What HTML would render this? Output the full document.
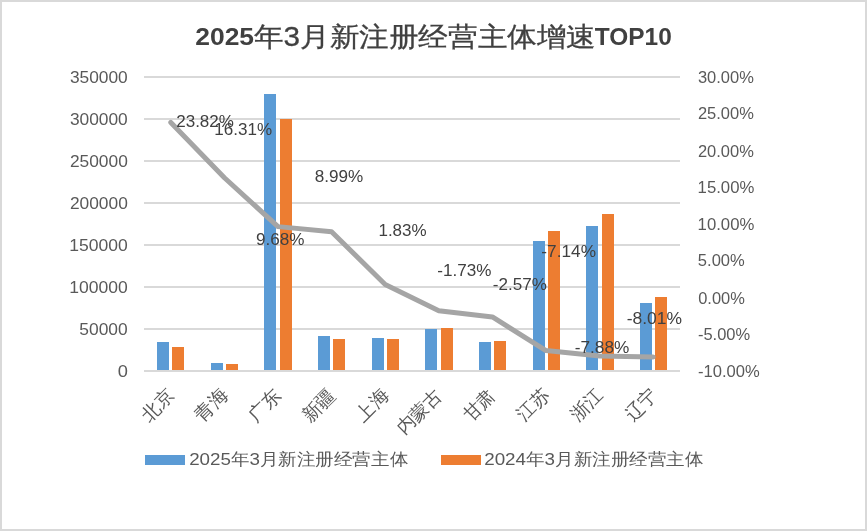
<!DOCTYPE html>
<html><head><meta charset="utf-8"><style>
html,body{margin:0;padding:0;background:#fff;width:867px;height:531px;overflow:hidden}
svg{display:block;will-change:transform}
</style></head><body>
<svg width="867" height="531" viewBox="0 0 867 531">
<rect x="1.0" y="1.0" width="865" height="529" fill="#fff" stroke="#d9d9d9" stroke-width="2"/>
<line x1="144" y1="77" x2="680" y2="77" stroke="#d9d9d9" stroke-width="2"/>
<line x1="144" y1="119" x2="680" y2="119" stroke="#d9d9d9" stroke-width="2"/>
<line x1="144" y1="161" x2="680" y2="161" stroke="#d9d9d9" stroke-width="2"/>
<line x1="144" y1="203" x2="680" y2="203" stroke="#d9d9d9" stroke-width="2"/>
<line x1="144" y1="245" x2="680" y2="245" stroke="#d9d9d9" stroke-width="2"/>
<line x1="144" y1="287" x2="680" y2="287" stroke="#d9d9d9" stroke-width="2"/>
<line x1="144" y1="329" x2="680" y2="329" stroke="#d9d9d9" stroke-width="2"/>
<rect x="157" y="342" width="12" height="29" fill="#5b9bd5"/>
<rect x="211" y="363" width="12" height="8" fill="#5b9bd5"/>
<rect x="264" y="94" width="12" height="277" fill="#5b9bd5"/>
<rect x="318" y="336" width="12" height="35" fill="#5b9bd5"/>
<rect x="372" y="338" width="12" height="33" fill="#5b9bd5"/>
<rect x="425" y="329" width="12" height="42" fill="#5b9bd5"/>
<rect x="479" y="342" width="12" height="29" fill="#5b9bd5"/>
<rect x="533" y="241" width="12" height="130" fill="#5b9bd5"/>
<rect x="586" y="226" width="12" height="145" fill="#5b9bd5"/>
<rect x="640" y="303" width="12" height="68" fill="#5b9bd5"/>
<rect x="172" y="347" width="12" height="24" fill="#ed7d31"/>
<rect x="226" y="364" width="12" height="7" fill="#ed7d31"/>
<rect x="280" y="119" width="12" height="252" fill="#ed7d31"/>
<rect x="333" y="339" width="12" height="32" fill="#ed7d31"/>
<rect x="387" y="339" width="12" height="32" fill="#ed7d31"/>
<rect x="441" y="328" width="12" height="43" fill="#ed7d31"/>
<rect x="494" y="341" width="12" height="30" fill="#ed7d31"/>
<rect x="548" y="231" width="12" height="140" fill="#ed7d31"/>
<rect x="602" y="214" width="12" height="157" fill="#ed7d31"/>
<rect x="655" y="297" width="12" height="74" fill="#ed7d31"/>
<line x1="144" y1="371" x2="680" y2="371" stroke="#d9d9d9" stroke-width="2"/>
<polyline points="170.80,122.42 224.40,177.77 278.00,226.63 331.60,231.71 385.20,284.48 438.80,310.72 492.40,316.91 546.00,350.58 599.60,356.02 653.20,356.97" fill="none" stroke="#a5a5a5" stroke-width="5" stroke-linejoin="round" stroke-linecap="round"/>
<rect x="145" y="455" width="40" height="10" fill="#5b9bd5"/>
<rect x="441" y="455" width="40" height="10" fill="#ed7d31"/>
<text x="69.93" y="83.15" style="font-family:'Liberation Sans',sans-serif;font-size:17.20px;font-weight:normal" fill="#595959" textLength="57.85" lengthAdjust="spacingAndGlyphs">350000</text>
<text x="69.93" y="125.15" style="font-family:'Liberation Sans',sans-serif;font-size:17.20px;font-weight:normal" fill="#595959" textLength="57.85" lengthAdjust="spacingAndGlyphs">300000</text>
<text x="69.94" y="167.15" style="font-family:'Liberation Sans',sans-serif;font-size:17.20px;font-weight:normal" fill="#595959" textLength="57.86" lengthAdjust="spacingAndGlyphs">250000</text>
<text x="69.94" y="209.15" style="font-family:'Liberation Sans',sans-serif;font-size:17.20px;font-weight:normal" fill="#595959" textLength="57.86" lengthAdjust="spacingAndGlyphs">200000</text>
<text x="69.24" y="251.15" style="font-family:'Liberation Sans',sans-serif;font-size:17.20px;font-weight:normal" fill="#595959" textLength="58.54" lengthAdjust="spacingAndGlyphs">150000</text>
<text x="69.24" y="293.15" style="font-family:'Liberation Sans',sans-serif;font-size:17.20px;font-weight:normal" fill="#595959" textLength="58.54" lengthAdjust="spacingAndGlyphs">100000</text>
<text x="79.35" y="335.15" style="font-family:'Liberation Sans',sans-serif;font-size:17.20px;font-weight:normal" fill="#595959" textLength="48.37" lengthAdjust="spacingAndGlyphs">50000</text>
<text x="117.84" y="377.15" style="font-family:'Liberation Sans',sans-serif;font-size:17.20px;font-weight:normal" fill="#595959" textLength="10.15" lengthAdjust="spacingAndGlyphs">0</text>
<text x="697.94" y="82.90" style="font-family:'Liberation Sans',sans-serif;font-size:16.40px;font-weight:normal" fill="#595959" textLength="55.96" lengthAdjust="spacingAndGlyphs">30.00%</text>
<text x="697.92" y="119.40" style="font-family:'Liberation Sans',sans-serif;font-size:16.40px;font-weight:normal" fill="#595959" textLength="55.99" lengthAdjust="spacingAndGlyphs">25.00%</text>
<text x="697.92" y="156.90" style="font-family:'Liberation Sans',sans-serif;font-size:16.40px;font-weight:normal" fill="#595959" textLength="55.99" lengthAdjust="spacingAndGlyphs">20.00%</text>
<text x="697.62" y="193.40" style="font-family:'Liberation Sans',sans-serif;font-size:16.40px;font-weight:normal" fill="#595959" textLength="56.75" lengthAdjust="spacingAndGlyphs">15.00%</text>
<text x="697.62" y="229.90" style="font-family:'Liberation Sans',sans-serif;font-size:16.40px;font-weight:normal" fill="#595959" textLength="56.75" lengthAdjust="spacingAndGlyphs">10.00%</text>
<text x="697.85" y="266.40" style="font-family:'Liberation Sans',sans-serif;font-size:16.40px;font-weight:normal" fill="#595959" textLength="46.95" lengthAdjust="spacingAndGlyphs">5.00%</text>
<text x="698.18" y="303.90" style="font-family:'Liberation Sans',sans-serif;font-size:16.40px;font-weight:normal" fill="#595959" textLength="46.67" lengthAdjust="spacingAndGlyphs">0.00%</text>
<text x="697.90" y="340.40" style="font-family:'Liberation Sans',sans-serif;font-size:16.40px;font-weight:normal" fill="#595959" textLength="52.26" lengthAdjust="spacingAndGlyphs">-5.00%</text>
<text x="698.04" y="376.90" style="font-family:'Liberation Sans',sans-serif;font-size:16.40px;font-weight:normal" fill="#595959" textLength="61.78" lengthAdjust="spacingAndGlyphs">-10.00%</text>
<text x="176.23" y="126.60" style="font-family:'Liberation Sans',sans-serif;font-size:16.30px;font-weight:normal" fill="#404040" textLength="57.69" lengthAdjust="spacingAndGlyphs">23.82%</text>
<text x="214.38" y="135.40" style="font-family:'Liberation Sans',sans-serif;font-size:16.30px;font-weight:normal" fill="#404040" textLength="57.83" lengthAdjust="spacingAndGlyphs">16.31%</text>
<text x="255.91" y="244.70" style="font-family:'Liberation Sans',sans-serif;font-size:16.30px;font-weight:normal" fill="#404040" textLength="48.53" lengthAdjust="spacingAndGlyphs">9.68%</text>
<text x="314.78" y="182.25" style="font-family:'Liberation Sans',sans-serif;font-size:16.30px;font-weight:normal" fill="#404040" textLength="48.57" lengthAdjust="spacingAndGlyphs">8.99%</text>
<text x="378.45" y="235.90" style="font-family:'Liberation Sans',sans-serif;font-size:16.30px;font-weight:normal" fill="#404040" textLength="48.20" lengthAdjust="spacingAndGlyphs">1.83%</text>
<text x="437.33" y="276.40" style="font-family:'Liberation Sans',sans-serif;font-size:16.30px;font-weight:normal" fill="#404040" textLength="54.16" lengthAdjust="spacingAndGlyphs">-1.73%</text>
<text x="492.81" y="290.00" style="font-family:'Liberation Sans',sans-serif;font-size:16.30px;font-weight:normal" fill="#404040" textLength="54.05" lengthAdjust="spacingAndGlyphs">-2.57%</text>
<text x="541.36" y="257.10" style="font-family:'Liberation Sans',sans-serif;font-size:16.30px;font-weight:normal" fill="#404040" textLength="54.60" lengthAdjust="spacingAndGlyphs">-7.14%</text>
<text x="574.74" y="352.85" style="font-family:'Liberation Sans',sans-serif;font-size:16.30px;font-weight:normal" fill="#404040" textLength="54.59" lengthAdjust="spacingAndGlyphs">-7.88%</text>
<text x="626.75" y="323.50" style="font-family:'Liberation Sans',sans-serif;font-size:16.30px;font-weight:normal" fill="#404040" textLength="55.27" lengthAdjust="spacingAndGlyphs">-8.01%</text>
<text transform="translate(175.40,395.69) rotate(-45)" text-anchor="end" style="font-family:'Liberation Sans',sans-serif;font-size:18.62px;font-weight:normal" fill="#595959">北京</text>
<text transform="translate(229.30,396.03) rotate(-45)" text-anchor="end" style="font-family:'Liberation Sans',sans-serif;font-size:18.99px;font-weight:normal" fill="#595959">青海</text>
<text transform="translate(282.41,396.30) rotate(-45)" text-anchor="end" style="font-family:'Liberation Sans',sans-serif;font-size:18.86px;font-weight:normal" fill="#595959">广东</text>
<text transform="translate(336.73,396.09) rotate(-45)" text-anchor="end" style="font-family:'Liberation Sans',sans-serif;font-size:18.67px;font-weight:normal" fill="#595959">新疆</text>
<text transform="translate(390.07,395.83) rotate(-45)" text-anchor="end" style="font-family:'Liberation Sans',sans-serif;font-size:18.73px;font-weight:normal" fill="#595959">上海</text>
<text transform="translate(442.44,397.16) rotate(-45)" text-anchor="end" style="font-family:'Liberation Sans',sans-serif;font-size:18.37px;font-weight:normal" fill="#595959">内蒙古</text>
<text transform="translate(496.22,396.98) rotate(-45)" text-anchor="end" style="font-family:'Liberation Sans',sans-serif;font-size:18.16px;font-weight:normal" fill="#595959">甘肃</text>
<text transform="translate(551.34,395.19) rotate(-45)" text-anchor="end" style="font-family:'Liberation Sans',sans-serif;font-size:18.52px;font-weight:normal" fill="#595959">江苏</text>
<text transform="translate(603.67,396.43) rotate(-45)" text-anchor="end" style="font-family:'Liberation Sans',sans-serif;font-size:18.28px;font-weight:normal" fill="#595959">浙江</text>
<text transform="translate(657.97,396.67) rotate(-45)" text-anchor="end" style="font-family:'Liberation Sans',sans-serif;font-size:18.31px;font-weight:normal" fill="#595959">辽宁</text>
<text x="189.16" y="465.03" style="font-family:'Liberation Sans',sans-serif;font-size:17.26px;font-weight:normal" fill="#595959" textLength="218.88" lengthAdjust="spacingAndGlyphs">2025年3月新注册经营主体</text>
<text x="484.20" y="465.00" style="font-family:'Liberation Sans',sans-serif;font-size:17.26px;font-weight:normal" fill="#595959" textLength="219.30" lengthAdjust="spacingAndGlyphs">2024年3月新注册经营主体</text>
<text x="195.24" y="45.45" style="font-family:'Liberation Sans',sans-serif;font-size:24.70px;font-weight:bold" fill="#404040" textLength="58.83" lengthAdjust="spacingAndGlyphs">2025</text>
<text x="253.86" y="45.57" style="font-family:'Liberation Sans',sans-serif;font-size:27.04px;font-weight:normal" fill="#404040" stroke="#404040" stroke-width="0.3" textLength="342.07" lengthAdjust="spacingAndGlyphs">年3月新注册经营主体增速</text>
<text x="594.84" y="44.60" style="font-family:'Liberation Sans',sans-serif;font-size:23.20px;font-weight:bold" fill="#404040" textLength="76.98" lengthAdjust="spacingAndGlyphs">TOP10</text>
</svg>
</body></html>
